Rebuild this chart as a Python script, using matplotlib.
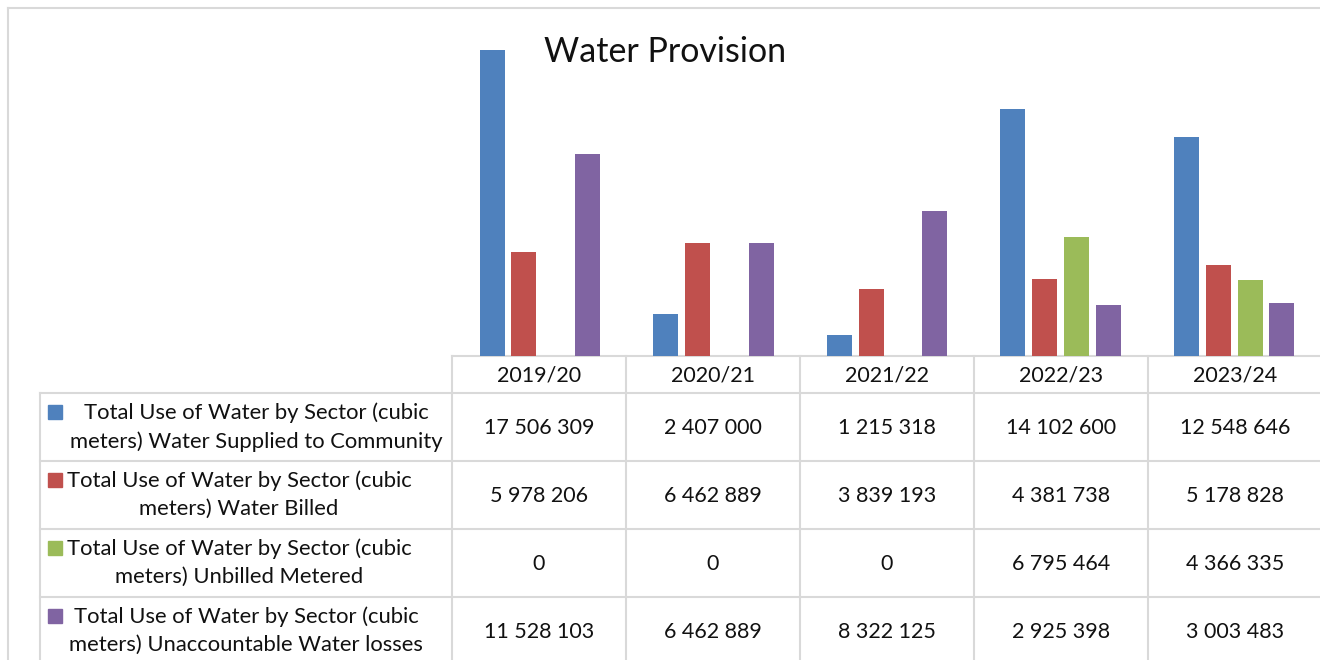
import matplotlib
matplotlib.use("Agg")
import matplotlib.pyplot as plt
from matplotlib.lines import Line2D
from matplotlib.patches import Rectangle

plt.rcParams['font.family'] = ['Lato', 'DejaVu Sans']

years = ["2019/20", "2020/21", "2021/22", "2022/23", "2023/24"]
series_names = [
    "Total Use of Water by Sector (cubic\nmeters) Water Supplied to Community",
    "Total Use of Water by Sector (cubic\nmeters) Water Billed",
    "Total Use of Water by Sector (cubic\nmeters) Unbilled Metered",
    "Total Use of Water by Sector (cubic\nmeters) Unaccountable Water losses",
]
supplied = [17506309, 2407000, 1215318, 14102600, 12548646]
billed = [5978206, 6462889, 3839193, 4381738, 5178828]
unbilled = [0, 0, 0, 6795464, 4366335]
losses = [11528103, 6462889, 8322125, 2925398, 3003483]
series = [supplied, billed, unbilled, losses]
colors = ["#4F81BD", "#C0504D", "#9BBB59", "#8064A2"]

W, H = 1320, 660
fig = plt.figure(figsize=(W / 100, H / 100), dpi=100)

# bar area sits directly above the data table columns
x0, x1 = 453, 1321
y_base, y_top = 356, 6.4
ax = fig.add_axes([x0 / W, 1 - y_base / H, (x1 - x0) / W, (y_base - y_top) / H])
ax.set_xlim(-0.5, len(years) - 0.5)
ax.set_ylim(0, 20_000_000)
ax.axis("off")

width = 0.144
step = 0.183
for i, (vals, col) in enumerate(zip(series, colors)):
    xs = [k + (i - 1.5) * step for k in range(len(years))]
    ax.bar(xs, vals, width=width, color=col, zorder=2)

# overlay in pixel coordinates for the table and frame
ov = fig.add_axes([0, 0, 1, 1], zorder=-1)
ov.set_xlim(0, W)
ov.set_ylim(H, 0)
ov.axis("off")

grid_c = "#d9d9d9"
lw = 1.5

def hline(y, xa, xb):
    ov.add_line(Line2D([xa, xb], [y, y], color=grid_c, lw=lw))

def vline(x, ya, yb):
    ov.add_line(Line2D([x, x], [ya, yb], color=grid_c, lw=lw))

# outer chart frame
hline(8, 8, W)
vline(8, 8, H)

col_edges = [452, 626, 800, 974, 1148, 1322]
row_edges = [356, 393, 461, 529, 597, 665]
label_left = 40

hline(row_edges[0], col_edges[0], W)
for y in row_edges[1:-1]:
    hline(y, label_left, W)
for x in col_edges[:-1]:
    vline(x, row_edges[0], H)
vline(label_left, row_edges[1], H)

fs = 15.5
for j, yr in enumerate(years):
    cx = (col_edges[j] + col_edges[j + 1]) / 2
    ov.text(cx, (row_edges[0] + row_edges[1]) / 2 + 1, yr, ha="center", va="center",
            fontsize=fs, color="#111111")

text_centers = [256, 239, 239, 246]
for i, (name, vals, col) in enumerate(zip(series_names, series, colors)):
    cy = (row_edges[i + 1] + row_edges[i + 2]) / 2
    ov.add_patch(Rectangle((48, cy - 22), 14, 14, color=col))
    ov.text(text_centers[i], cy, name, ha="center", va="center", fontsize=15.8,
            color="#111111", linespacing=1.5, multialignment="center")
    for j, v in enumerate(vals):
        cx = (col_edges[j] + col_edges[j + 1]) / 2
        label = f"{v:,}".replace(",", " ")
        ov.text(cx, cy + 1, label, ha="center", va="center", fontsize=fs, color="#111111")

fig.text(665 / W, 1 - 52 / H, "Water Provision", ha="center", va="center",
         fontsize=24.5, color="#111111")

fig.savefig("out.png", dpi=100, facecolor="white")
